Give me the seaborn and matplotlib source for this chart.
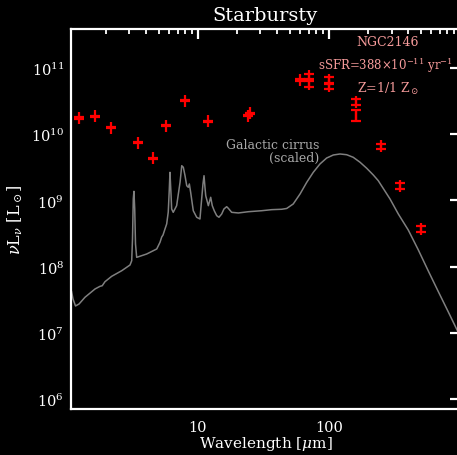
import numpy as np
import pandas as pd
import matplotlib
matplotlib.use("Agg")
import matplotlib.pyplot as plt
import seaborn as sns
from matplotlib.ticker import LogFormatterMathtext, NullLocator, FixedLocator, FixedFormatter, LogLocator

# Photometry of NGC2146 (wavelength in micron, nu L_nu in L_sun)
wavelength = [1.23, 1.63, 2.16, 3.5, 4.5, 5.7, 7.9, 12.0, 24.0, 25.0,
              60.0, 70.0, 70.0, 100.0, 100.0, 160.0, 160.0, 250.0, 350.0, 500.0]
luminosity = [1.76e10, 1.86e10, 1.25e10, 7.4e9, 4.3e9, 1.35e10, 3.2e10, 1.57e10, 1.9e10, 2.07e10,
              6.6e10, 7.5e10, 5.7e10, 6.65e10, 5.3e10, 3.1e10, 1.95e10, 6.55e9, 1.67e9, 3.7e8]
rel_error = [0.02, 0.02, 0.02, 0.02, 0.02, 0.02, 0.02, 0.02, 0.02, 0.02,
             0.02, 0.10, 0.10, 0.10, 0.10, 0.10, 0.18, 0.10, 0.10, 0.10]

# Galactic cirrus template (scaled), log10 wavelength / log10 nu L_nu
cirrus_log_wave = [0.034, 0.046, 0.065, 0.092, 0.137, 0.214, 0.252, 0.269, 0.290, 0.341,
                   0.418, 0.481, 0.494, 0.500, 0.506, 0.511, 0.517, 0.523, 0.532, 0.608,
                   0.685, 0.710, 0.723, 0.733, 0.748, 0.761, 0.773, 0.781, 0.786, 0.794,
                   0.799, 0.811, 0.837, 0.863, 0.876, 0.888, 0.901, 0.914, 0.926, 0.934,
                   0.944, 0.964, 0.990, 1.015, 1.028, 1.038, 1.046, 1.053, 1.059, 1.079,
                   1.097, 1.109, 1.124, 1.143, 1.160, 1.181, 1.198, 1.219, 1.231, 1.257,
                   1.308, 1.384, 1.486, 1.563, 1.639, 1.677, 1.727, 1.779, 1.830, 1.880,
                   1.931, 1.982, 2.033, 2.084, 2.135, 2.185, 2.237, 2.288, 2.338, 2.376,
                   2.466, 2.529, 2.605, 2.682, 2.758, 2.834, 2.911, 2.985]
cirrus_log_lum = [7.631, 7.511, 7.405, 7.435, 7.536, 7.662, 7.702, 7.711, 7.772, 7.853,
                  7.938, 8.024, 8.089, 8.417, 9.021, 9.137, 8.870, 8.341, 8.140, 8.190,
                  8.266, 8.367, 8.447, 8.477, 8.568, 8.644, 8.825, 9.172, 9.424, 9.097,
                  8.870, 8.820, 8.920, 9.273, 9.524, 9.500, 9.373, 9.222, 9.198, 9.248,
                  9.122, 8.844, 8.745, 8.719, 9.021, 9.248, 9.373, 9.202, 9.071, 8.920,
                  9.047, 8.920, 8.844, 8.769, 8.745, 8.795, 8.870, 8.905, 8.881, 8.820,
                  8.810, 8.829, 8.844, 8.860, 8.866, 8.878, 8.946, 9.097, 9.273, 9.424,
                  9.550, 9.640, 9.686, 9.701, 9.690, 9.651, 9.576, 9.485, 9.384, 9.298,
                  9.021, 8.795, 8.553, 8.251, 7.934, 7.624, 7.314, 7.012]

sns.set_theme(style="dark")
plt.rcParams.update({
    "font.family": ["DejaVu Serif"],
    "mathtext.fontset": "dejavuserif",
    "figure.facecolor": "black",
    "axes.facecolor": "black",
    "axes.edgecolor": "white",
    "axes.labelcolor": "white",
    "text.color": "white",
    "xtick.color": "white",
    "ytick.color": "white",
    "axes.grid": False,
})

fig = plt.figure(figsize=(4.57, 4.56), dpi=100)
ax = fig.add_axes([71 / 457, 46 / 456, (460 - 71) / 457, (426.5 - 46) / 456])
ax.set_facecolor("black")

cirrus = pd.DataFrame({"wave": 10 ** np.array(cirrus_log_wave),
                       "lum": 10 ** np.array(cirrus_log_lum)})
sns.lineplot(data=cirrus, x="wave", y="lum", sort=False, estimator=None,
             color="#7f7f7f", lw=1.1, ax=ax, zorder=2)

lum = np.array(luminosity)
ax.errorbar(wavelength, lum, yerr=lum * np.array(rel_error), fmt="|", color="red",
            ms=8.0, mew=1.6, elinewidth=1.6, capsize=3.5, capthick=1.6,
            ecolor="red", zorder=3)

ax.set_xscale("log")
ax.set_yscale("log")
ax.set_xlim(1.073, 1000)
ax.set_ylim(7.06e5, 3.95e11)

for s in ax.spines.values():
    s.set_color("white")
    s.set_linewidth(1.6)

ax.xaxis.set_major_locator(FixedLocator([10, 100]))
ax.xaxis.set_major_formatter(FixedFormatter(["10", "100"]))
ax.xaxis.set_minor_locator(LogLocator(base=10, subs=np.arange(2, 10), numticks=20))
ax.yaxis.set_major_locator(FixedLocator([1e6, 1e7, 1e8, 1e9, 1e10, 1e11]))
ax.yaxis.set_major_formatter(LogFormatterMathtext())
ax.yaxis.set_minor_locator(NullLocator())
ax.tick_params(which="both", direction="in", top=True, right=True, color="white",
               labelsize=10.5)
ax.tick_params(which="major", length=7, width=1.6)
ax.tick_params(which="minor", length=3.5, width=1.3)
ax.tick_params(axis="x", which="major", pad=8)
ax.tick_params(axis="y", which="major", pad=5)

ax.set_xlabel(r"Wavelength [$\mu$m]", fontsize=11, labelpad=0)
ax.set_ylabel(r"$\nu$L$_\nu$ [L$_\odot$]", fontsize=11.5, labelpad=4)
ax.set_title("Starbursty", fontsize=14, color="white", pad=6)

pink = "#f59a9a"
ax.text(0.815, 0.967, "NGC2146", transform=ax.transAxes, ha="center", va="center",
        color=pink, fontsize=9)
ax.text(0.808, 0.905, r"sSFR=388$\times$10$^{-11}$ yr$^{-1}$", transform=ax.transAxes,
        ha="center", va="center", color=pink, fontsize=8.5)
ax.text(0.815, 0.843, r"Z=1/1 Z$_\odot$", transform=ax.transAxes, ha="center",
        va="center", color=pink, fontsize=9)

grey = "#a8a8a8"
ax.text(0.6375, 0.694, "Galactic cirrus", transform=ax.transAxes, ha="right",
        va="center", color=grey, fontsize=9)
ax.text(0.6375, 0.662, "(scaled)", transform=ax.transAxes, ha="right",
        va="center", color=grey, fontsize=9)

fig.savefig("out.png", dpi=100, facecolor="black")
